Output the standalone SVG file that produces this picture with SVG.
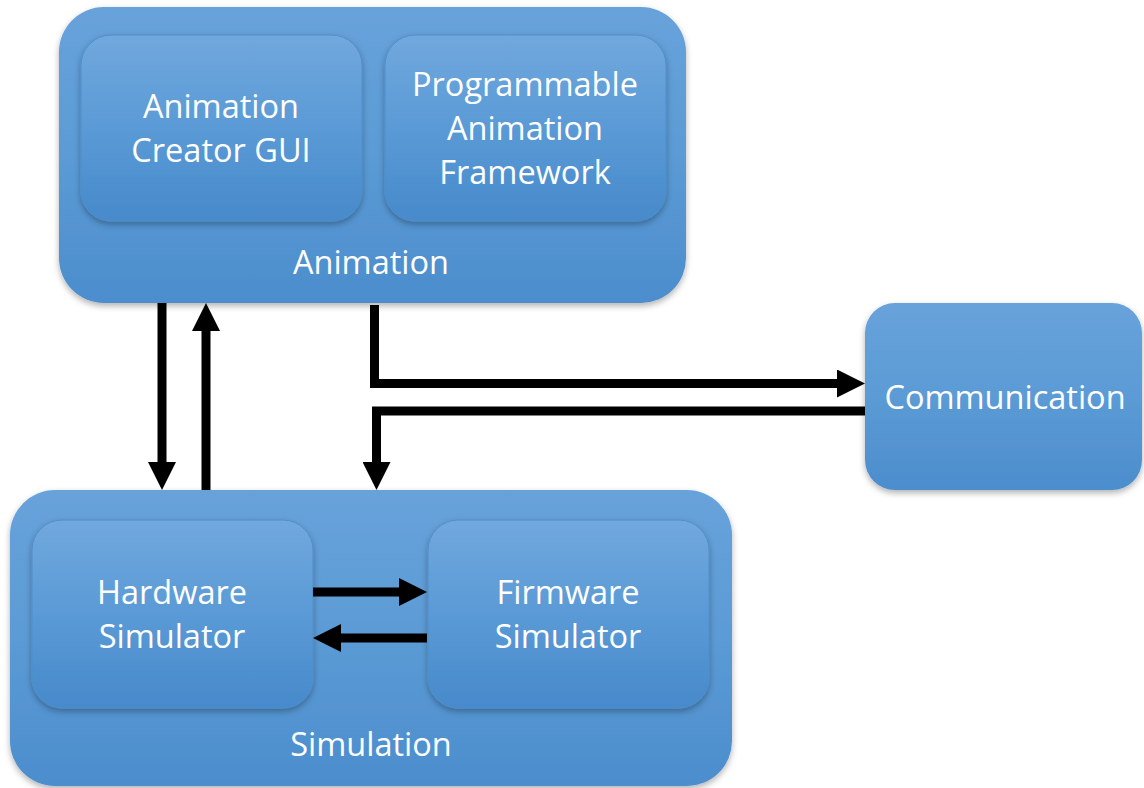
<svg xmlns="http://www.w3.org/2000/svg" width="1144" height="788" viewBox="0 0 1144 788">
<defs>
<linearGradient id="gOuter" x1="0" y1="0" x2="0" y2="1">
<stop offset="0" stop-color="#68a2db"/>
<stop offset="0.5" stop-color="#5b9bd5"/>
<stop offset="1" stop-color="#4c8dcd"/>
</linearGradient>
<linearGradient id="gInner" x1="0" y1="0" x2="0" y2="1">
<stop offset="0" stop-color="#71a8dd"/>
<stop offset="0.5" stop-color="#5a9ad6"/>
<stop offset="1" stop-color="#478acb"/>
</linearGradient>
<filter id="sh" x="-10%" y="-10%" width="120%" height="130%">
<feDropShadow dx="0" dy="3" stdDeviation="3" flood-color="#000" flood-opacity="0.3"/>
</filter>
<marker id="ah" markerUnits="userSpaceOnUse" markerWidth="28" markerHeight="28" refX="0" refY="14" orient="auto">
<path d="M0,0 L28,14 L0,28 Z" fill="#000"/>
</marker>
</defs>
<style>
.outer{fill:url(#gOuter);filter:url(#sh);}
.inner{fill:url(#gInner);stroke:#4f8ec9;stroke-width:1;filter:url(#sh);}
.t{font-family:"Open Sans","Liberation Sans",sans-serif;font-size:32.5px;fill:#fff;text-anchor:middle;}
.c{fill:none;stroke:#000;stroke-width:9;marker-end:url(#ah);}
</style>
<g id="animation">
<rect class="outer" x="59" y="7" width="627" height="296" rx="45"/>
<text class="t" x="371" y="274">Animation</text>
</g>
<g id="animation-creator-gui">
<rect class="inner" x="81" y="35" width="281" height="186" rx="30"/>
<text class="t" x="221" y="118">Animation</text>
<text class="t" x="221" y="162">Creator GUI</text>
</g>
<g id="programmable-animation-framework">
<rect class="inner" x="385" y="35" width="281" height="186" rx="30"/>
<text class="t" x="525" y="96">Programmable</text>
<text class="t" x="525" y="140">Animation</text>
<text class="t" x="525" y="184">Framework</text>
</g>
<g id="communication">
<rect class="outer" x="865" y="303" width="277" height="187" rx="30"/>
<text class="t" x="1005" y="409">Communication</text>
</g>
<g id="simulation">
<rect class="outer" x="10" y="490" width="722" height="296" rx="45"/>
<text class="t" x="371" y="756">Simulation</text>
</g>
<g id="hardware-simulator">
<rect class="inner" x="32" y="520" width="281" height="188" rx="30"/>
<text class="t" x="172" y="604">Hardware</text>
<text class="t" x="172" y="648">Simulator</text>
</g>
<g id="firmware-simulator">
<rect class="inner" x="428" y="520" width="281" height="188" rx="30"/>
<text class="t" x="568" y="604">Firmware</text>
<text class="t" x="568" y="648">Simulator</text>
</g>
<g id="connectors">
<path class="c" d="M162,303 L162,462"/>
<path class="c" d="M206,490 L206,331"/>
<path class="c" d="M374.5,305 L374.5,383.5 L837,383.5"/>
<path class="c" d="M865,411 L376.5,411 L376.5,462"/>
<path class="c" d="M313,592 L399,592"/>
<path class="c" d="M427,638 L341,638"/>
</g>
</svg>
